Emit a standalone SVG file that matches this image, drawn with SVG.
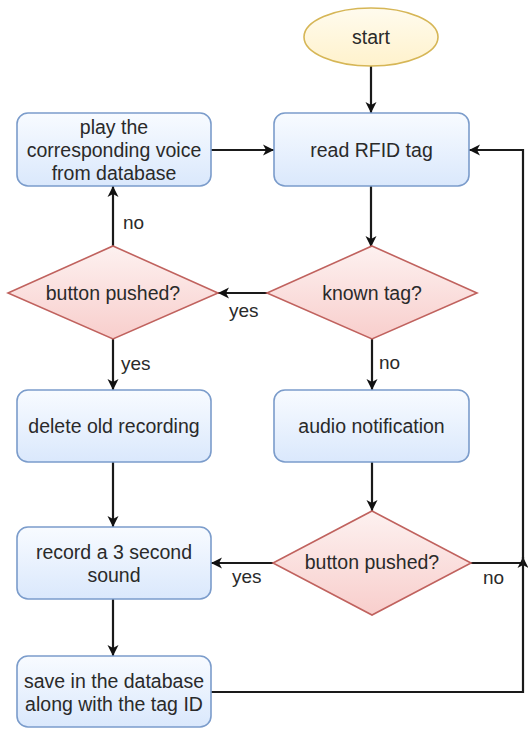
<svg xmlns="http://www.w3.org/2000/svg" width="528" height="729" viewBox="0 0 528 729">
<defs>
<linearGradient id="gBlue" x1="0" y1="0" x2="0" y2="1"><stop offset="0" stop-color="#f8fbff"/><stop offset="1" stop-color="#dae8fc"/></linearGradient>
<linearGradient id="gRed" x1="0" y1="0" x2="0" y2="1"><stop offset="0" stop-color="#fdf1f0"/><stop offset="1" stop-color="#f8cecc"/></linearGradient>
<linearGradient id="gYel" x1="0" y1="0" x2="0" y2="1"><stop offset="0" stop-color="#fffbee"/><stop offset="1" stop-color="#fff2cc"/></linearGradient>
<marker id="arr" viewBox="0 0 12 12" refX="11" refY="6" markerWidth="12" markerHeight="12" markerUnits="userSpaceOnUse" orient="auto">
<path d="M0,0.5 L11,6 L0,11.5 L3,6 z" fill="#111"/>
</marker>
<style>
.box{fill:url(#gBlue);stroke:#7b9ccb;stroke-width:1.6}
.dia{fill:url(#gRed);stroke:#c0625e;stroke-width:1.6}
.ell{fill:url(#gYel);stroke:#d6b656;stroke-width:1.6}
.t{font-family:"Liberation Sans",Arial,sans-serif;font-size:19.5px;fill:#2a2a2a;text-anchor:middle}
.lbl{font-family:"Liberation Sans",Arial,sans-serif;font-size:19px;fill:#2a2a2a}
.c{fill:none;stroke:#1a1a1a;stroke-width:2.2}
.ca{fill:none;stroke:#1a1a1a;stroke-width:2.2;marker-end:url(#arr)}
</style>
</defs>
<g id="connectors">
<path class="ca" d="M371,66 L371,113"/>
<path class="ca" d="M371,186 L371,247"/>
<path class="ca" d="M267,293 L218,293"/>
<path class="ca" d="M113,247 L113,186"/>
<path class="ca" d="M113,339 L113,390"/>
<path class="ca" d="M372,339 L372,390"/>
<path class="ca" d="M372,462 L372,511"/>
<path class="ca" d="M113,462 L113,527"/>
<path class="ca" d="M273,563 L211,563"/>
<path class="ca" d="M471,563 L523,563 L523,557"/>
<path class="ca" d="M113,599 L113,656"/>
<path class="ca" d="M211,692 L523,692 L523,150 L469,150"/>
<path class="ca" d="M211,150 L274,150"/>
<text class="lbl" x="123" y="229">no</text>
<text class="lbl" x="229" y="317">yes</text>
<text class="lbl" x="121" y="370">yes</text>
<text class="lbl" x="379" y="369">no</text>
<text class="lbl" x="232" y="583">yes</text>
<text class="lbl" x="483" y="584">no</text>
</g>
<g id="start">
<ellipse class="ell" cx="371" cy="37" rx="67" ry="29"/>
<text class="t" x="371" y="44">start</text>
</g>
<g id="read">
<rect class="box" x="274" y="113" width="195" height="73" rx="11"/>
<text class="t" x="371.5" y="157">read RFID tag</text>
</g>
<g id="play">
<rect class="box" x="17" y="113" width="194" height="73" rx="11"/>
<text class="t" x="114" y="134">play the</text>
<text class="t" x="114" y="157">corresponding voice</text>
<text class="t" x="114" y="180">from database</text>
</g>
<g id="known">
<polygon class="dia" points="372,246 477,293 372,339 267,293"/>
<text class="t" x="372" y="300">known tag?</text>
</g>
<g id="button1">
<polygon class="dia" points="113,246 218,293 113,339 8,293"/>
<text class="t" x="113" y="300">button pushed?</text>
</g>
<g id="delete">
<rect class="box" x="17" y="390" width="194" height="72" rx="11"/>
<text class="t" x="114" y="433">delete old recording</text>
</g>
<g id="audio">
<rect class="box" x="274" y="390" width="195" height="72" rx="11"/>
<text class="t" x="371.5" y="433">audio notification</text>
</g>
<g id="button2">
<polygon class="dia" points="372,511 471,563 372,615 273,563"/>
<text class="t" x="372" y="569">button pushed?</text>
</g>
<g id="record">
<rect class="box" x="17" y="527" width="194" height="72" rx="11"/>
<text class="t" x="114" y="559">record a 3 second</text>
<text class="t" x="114" y="582">sound</text>
</g>
<g id="save">
<rect class="box" x="17" y="656" width="194" height="71" rx="11"/>
<text class="t" x="114" y="688">save in the database</text>
<text class="t" x="114" y="711">along with the tag ID</text>
</g>
</svg>
